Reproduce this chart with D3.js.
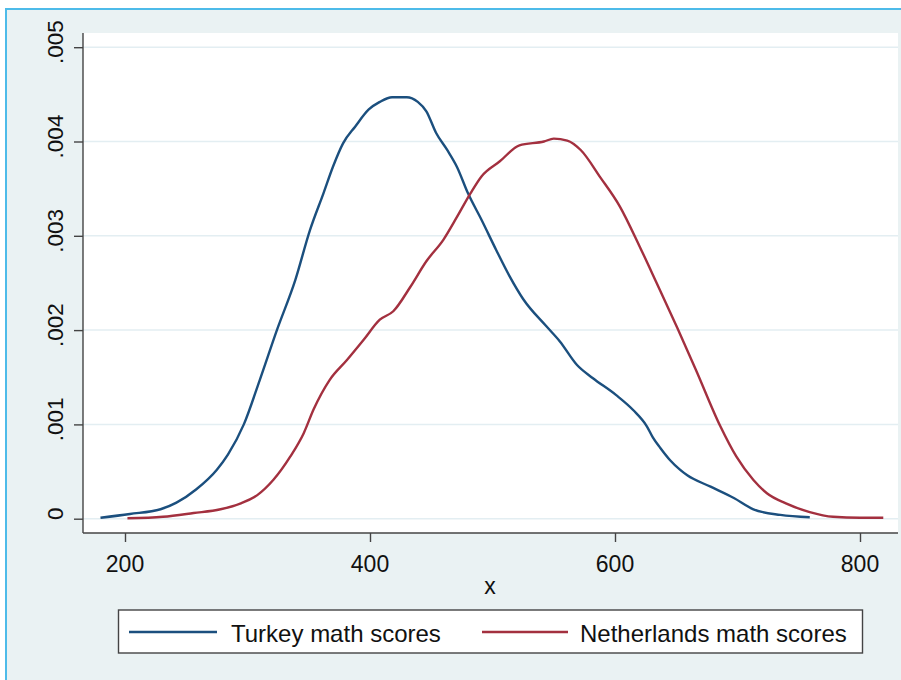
<html>
<head>
    <title>Turkey vs Netherlands math scores</title>
    <meta charset="UTF-8">
    <style>
        body {
            margin: 0;
            background: #fff;
        }

        text {
            font-family: "Liberation Sans", Arial, sans-serif;
            fill: #111;
        }

        .grid line {
            stroke: #e3eef2;
            stroke-width: 1.5px;
        }

        .axis path, .axis line {
            stroke: #444;
            stroke-width: 1.4px;
        }
    </style>
</head>
<body>
<div id="chart"></div>
</body>
<script src="https://d3js.org/d3.v7.min.js"></script>
<script>

    // kernel density estimates
    var turkeyX = [180, 204, 229, 242, 258, 275, 284, 297, 310, 324, 339, 351, 362, 370, 378, 388, 399, 408, 418, 430,
        439, 446, 454, 463, 471, 480, 491, 503, 514, 525, 544, 555, 569, 582, 601, 615, 626, 631, 637, 645, 653, 659,
        678, 697, 713, 735, 759];
    var turkeyY = [0.00001, 0.00005, 0.0001, 0.00017, 0.00031, 0.00052, 0.00068, 0.001, 0.00147, 0.0020, 0.00253,
        0.00306, 0.00345, 0.00374, 0.00398, 0.00416, 0.00434, 0.00442, 0.00447, 0.00447, 0.00442, 0.00432, 0.00409,
        0.00391, 0.00373, 0.00345, 0.00317, 0.00285, 0.00257, 0.00233, 0.00204, 0.00188, 0.00163, 0.00149, 0.00131,
        0.00115, 0.00098, 0.00086, 0.00075, 0.00062, 0.00052, 0.00046, 0.00034, 0.00022, 0.0001, 0.00004, 0.000015];

    var nlX = [202, 231, 256, 278, 294, 308, 321, 335, 346, 354, 367, 381, 395, 408, 419, 433, 446, 460, 471, 482, 491,
        506, 522, 542, 550, 561, 572, 588, 604, 620, 634, 651, 666, 686, 699, 713, 724, 740, 759, 778, 800, 819];
    var nlY = [0.000004, 0.00002, 0.00006, 0.0001, 0.00016, 0.00025, 0.00041, 0.00066, 0.00091, 0.00116, 0.00147,
        0.00168, 0.0019, 0.00211, 0.0022, 0.00246, 0.00273, 0.00296, 0.0032, 0.00345, 0.00363, 0.00379, 0.00396,
        0.0040, 0.00403, 0.00401, 0.00391, 0.00362, 0.00331, 0.00289, 0.0025, 0.00202, 0.00158, 0.00098, 0.00066,
        0.00041, 0.00027, 0.00016, 0.00007, 0.00002, 0.00001, 0.00001];

    var xTicks = [200, 400, 600, 800];
    var yTicks = [0, 0.001, 0.002, 0.003, 0.004, 0.005];
    var yTickLabels = ["0", ".001", ".002", ".003", ".004", ".005"];
    var seriesNames = ["Turkey math scores", "Netherlands math scores"];
    var seriesColors = ["#1b4f7e", "#a3303f"];

    var width = 901,
        height = 680;

    var plot = {left: 83, right: 898, top: 33, bottom: 533};

    var svg = d3.select("#chart").append("svg")
        .attr("width", width)
        .attr("height", height);

    // graph region: light background with a blue edge on top and left
    svg.append("rect")
        .attr("x", 6).attr("y", 9)
        .attr("width", width).attr("height", height)
        .attr("fill", "#eaf2f3");
    svg.append("path")
        .attr("d", "M6," + height + "V9H" + width)
        .attr("fill", "none")
        .attr("stroke", "#4dbbe9")
        .attr("stroke-width", 2);

    svg.append("rect")
        .attr("x", plot.left).attr("y", plot.top)
        .attr("width", plot.right - plot.left)
        .attr("height", plot.bottom - plot.top)
        .attr("fill", "#fff");

    var x = d3.scaleLinear().domain([200, 800]).range([125, 860]);
    var y = d3.scaleLinear().domain([0, 0.005]).range([518.7, 47.2]);

    // horizontal grid
    svg.append("g")
        .attr("class", "grid")
        .selectAll("line")
        .data(yTicks).enter()
        .append("line")
        .attr("x1", plot.left)
        .attr("x2", plot.right)
        .attr("y1", function (d) { return y(d); })
        .attr("y2", function (d) { return y(d); });

    // axes
    var yAxis = svg.append("g")
        .attr("class", "axis")
        .attr("transform", "translate(" + plot.left + ",0)")
        .call(d3.axisLeft(y).tickValues(yTicks).tickSize(9).tickSizeOuter(0).tickFormat(""));
    yAxis.select(".domain").attr("d", "M0," + plot.top + "V" + plot.bottom);

    svg.append("g")
        .selectAll("text")
        .data(yTicks).enter()
        .append("text")
        .attr("transform", function (d) {
            return "translate(62.5," + (y(d) - 5) + ") rotate(-90)";
        })
        .attr("text-anchor", "middle")
        .style("font-size", "22.5px")
        .text(function (d, i) { return yTickLabels[i]; });

    var xAxis = svg.append("g")
        .attr("class", "axis")
        .attr("transform", "translate(0," + plot.bottom + ")")
        .call(d3.axisBottom(x).tickValues(xTicks).tickSize(9).tickSizeOuter(0).tickFormat(""));
    xAxis.select(".domain").attr("d", "M" + plot.left + ",0H" + plot.right);

    svg.append("g")
        .selectAll("text")
        .data(xTicks).enter()
        .append("text")
        .attr("x", function (d) { return x(d); })
        .attr("y", 572)
        .attr("text-anchor", "middle")
        .style("font-size", "23px")
        .text(function (d) { return d; });

    svg.append("text")
        .attr("x", 490)
        .attr("y", 594)
        .attr("text-anchor", "middle")
        .style("font-size", "23px")
        .text("x");

    // density lines
    var line = d3.line()
        .x(function (d) { return x(d[0]); })
        .y(function (d) { return y(d[1]); })
        .curve(d3.curveMonotoneX);

    var series = [d3.zip(turkeyX, turkeyY), d3.zip(nlX, nlY)];

    svg.selectAll(".density")
        .data(series).enter()
        .append("path")
        .attr("class", "density")
        .attr("d", line)
        .attr("fill", "none")
        .attr("stroke", function (d, i) { return seriesColors[i]; })
        .attr("stroke-width", 2.4)
        .attr("stroke-linejoin", "round");

    // legend
    var legend = svg.append("g");
    legend.append("rect")
        .attr("x", 118.5).attr("y", 610)
        .attr("width", 744).attr("height", 43)
        .attr("fill", "#fff")
        .attr("stroke", "#444")
        .attr("stroke-width", 1.4);

    var legendPos = [{x1: 129, x2: 217, tx: 231}, {x1: 482, x2: 568, tx: 580}];
    var item = legend.selectAll(".item")
        .data(seriesNames).enter()
        .append("g")
        .attr("class", "item");
    item.append("line")
        .attr("x1", function (d, i) { return legendPos[i].x1; })
        .attr("x2", function (d, i) { return legendPos[i].x2; })
        .attr("y1", 632).attr("y2", 632)
        .attr("stroke", function (d, i) { return seriesColors[i]; })
        .attr("stroke-width", 2.4);
    item.append("text")
        .attr("x", function (d, i) { return legendPos[i].tx; })
        .attr("y", 642)
        .style("font-size", "24px")
        .text(function (d) { return d; });

</script>
</html>
